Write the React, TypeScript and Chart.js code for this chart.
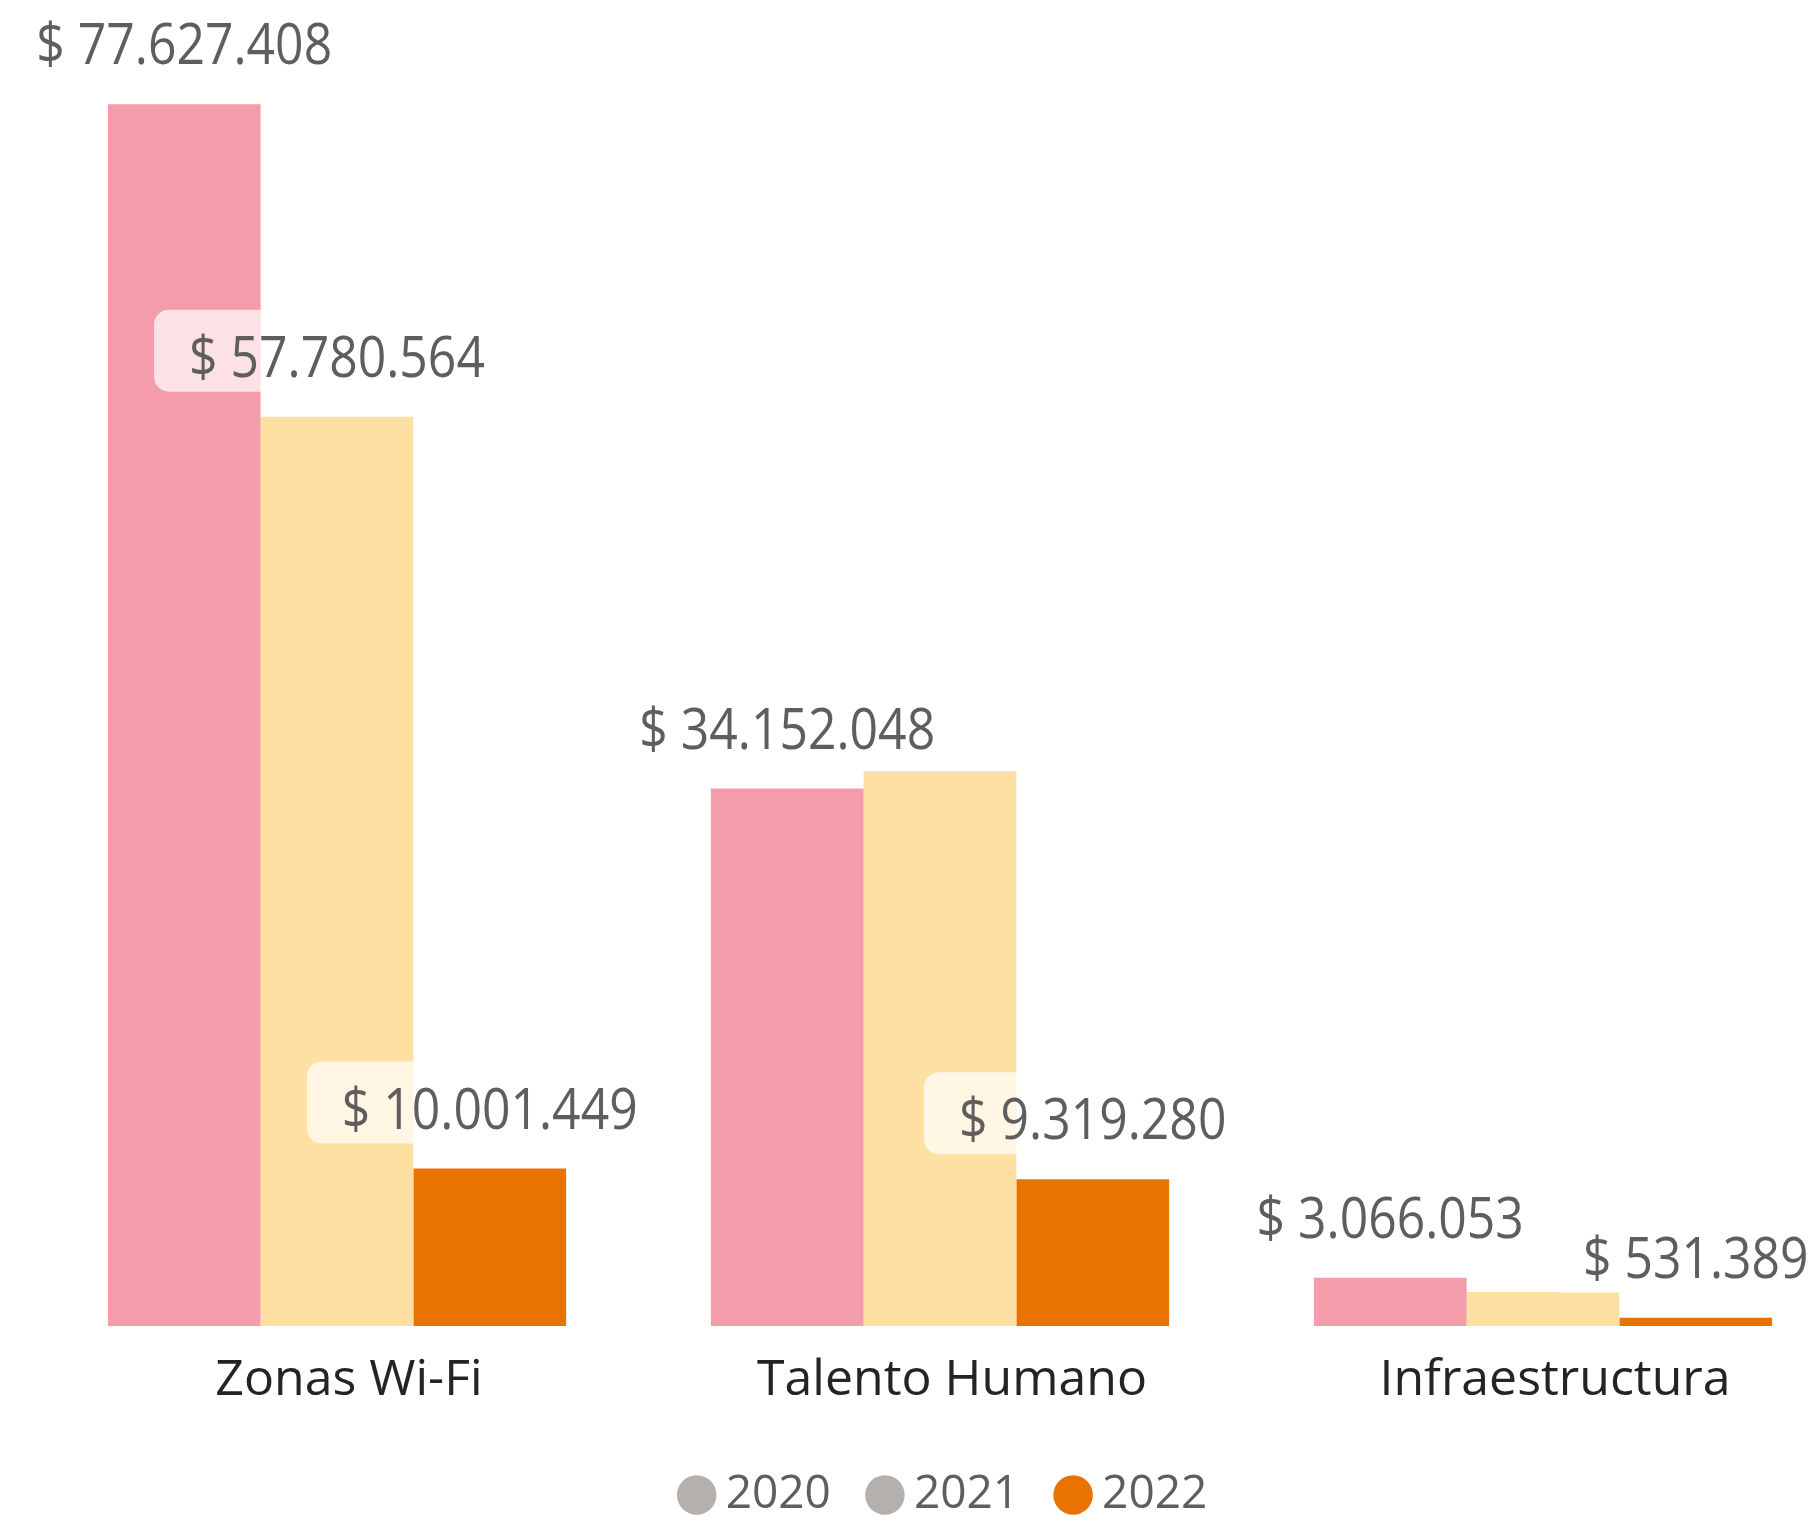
import React, { useEffect, useRef } from 'react';
import { Chart, registerables } from 'chart.js';

Chart.register(...registerables);

const categories = ['Zonas Wi-Fi', 'Talento Humano', 'Infraestructura'];
const seriesNames = ['2020', '2021', '2022'];
const values2020 = [77627408, 34152048, 3066053];
const values2021 = [57780564, 35270000, 2160000];
const values2022 = [10001449, 9319280, 531389];
const labelShown2020 = [true, true, true];
const labelShown2021 = [true, false, false];
const labelShown2022 = [true, true, true];
const barColors = ['#F59CAB', '#FFE0A3', '#E87300'];
const legendColors = ['#B3B0AD', '#B3B0AD', '#E87300'];

const FONT = '"Open Sans", "Noto Sans", sans-serif';

function fmt(v: number): string {
  return '$ ' + Math.round(v).toString().replace(/\B(?=(\d{3})+(?!\d))/g, '.');
}

const valueLabelPlugin = {
  id: 'valueLabels',
  afterDatasetsDraw(chart: any) {
    const ctx = chart.ctx;
    const shown = [labelShown2020, labelShown2021, labelShown2022];
    const sx = 0.875;
    ctx.save();
    ctx.font = `57px ${FONT}`;
    chart.data.datasets.forEach((ds: any, i: number) => {
      const meta = chart.getDatasetMeta(i);
      meta.data.forEach((bar: any, j: number) => {
        if (!shown[i][j]) return;
        const text = fmt(ds.data[j]);
        const w = ctx.measureText(text).width * sx;
        const base = bar.y - 40;
        const x0 = bar.x - w / 2;
        ctx.fillStyle = 'rgba(255,255,255,0.7)';
        ctx.beginPath();
        ctx.roundRect(x0 - 35, base - 67, w + 70, 82, 15);
        ctx.fill();
        ctx.save();
        ctx.translate(bar.x, base);
        ctx.scale(sx, 1);
        ctx.fillStyle = '#605E5C';
        ctx.textAlign = 'center';
        ctx.textBaseline = 'alphabetic';
        ctx.fillText(text, 0, 0);
        ctx.restore();
      });
    });
    ctx.restore();
  },
};

export default function App() {
  const canvasRef = useRef<HTMLCanvasElement | null>(null);

  useEffect(() => {
    const canvas = canvasRef.current;
    if (!canvas) return;
    const seriesValues = [values2020, values2021, values2022];
    const chart = new Chart(canvas, {
      type: 'bar',
      data: {
        labels: categories,
        datasets: seriesNames.map((name, i) => ({
          label: name,
          data: seriesValues[i],
          backgroundColor: barColors[i],
          borderWidth: 0,
          categoryPercentage: 0.76,
          barPercentage: 1,
          clip: false as any,
          yAxisID: 'y',
        })),
      },
      options: {
        animation: false,
        responsive: true,
        maintainAspectRatio: false,
        events: [],
        layout: { padding: { left: 337, right: 258, top: 67, bottom: 0 } },
        scales: {
          x: {
            offset: false,
            grid: { display: false, drawTicks: false },
            border: { display: false },
            ticks: {
              color: '#252423',
              font: { family: FONT, size: 50 },
              padding: 25,
              labelOffset: 12,
              maxRotation: 0,
              autoSkip: false,
            },
            afterFit: (s: any) => {
              s.height = 98;
            },
          },
          y: { display: false, min: 0, max: 80000000 },
          yRight: {
            position: 'right',
            display: true,
            grid: { display: false, drawTicks: false },
            border: { display: false },
            ticks: { display: false },
            afterFit: (s: any) => {
              s.width = 18;
            },
          },
        },
        plugins: {
          legend: {
            position: 'bottom',
            labels: {
              usePointStyle: true,
              pointStyle: 'circle',
              boxWidth: 12,
              boxHeight: 28,
              padding: 48,
              color: '#605E5C',
              font: { family: FONT, size: 46 },
              generateLabels: () =>
                seriesNames.map((n, i) => ({
                  text: n,
                  fillStyle: legendColors[i],
                  strokeStyle: legendColors[i],
                  lineWidth: 0,
                  pointStyle: 'circle',
                  hidden: false,
                  datasetIndex: i,
                  fontColor: '#605E5C',
                })),
            },
          },
          tooltip: { enabled: false },
        },
      },
      plugins: [valueLabelPlugin],
    } as any);
    return () => chart.destroy();
  }, []);

  return (
    <div style={{ position: 'fixed', left: 0, top: 0, width: 1819, height: 1528, background: '#fff' }}>
      <canvas ref={canvasRef} style={{ display: 'block' }} />
    </div>
  );
}
